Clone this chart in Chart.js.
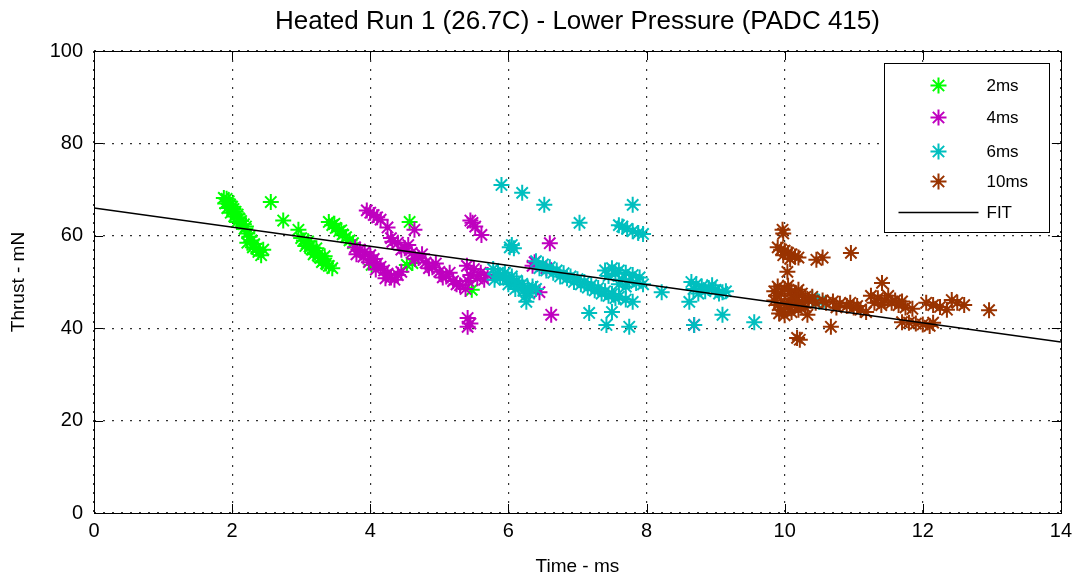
<!DOCTYPE html>
<html>
<head>
<meta charset="utf-8">
<script src="https://cdn.jsdelivr.net/npm/chart.js@4.4.1/dist/chart.umd.min.js"></script>
<style>
  html, body { margin: 0; padding: 0; background: #ffffff; }
  #wrap { width: 1078px; height: 580px; position: relative; }
</style>
</head>
<body>
<div id="wrap"><canvas id="c" width="1078" height="580"></canvas></div>
<script>
// ---------- DATA ----------
const titleText = 'Heated Run 1 (26.7C) - Lower Pressure (PADC 415)';
const xTitle = 'Time - ms';
const yTitle = 'Thrust - mN';
const seriesNames = ['2ms', '4ms', '6ms', '10ms'];
const fitName = 'FIT';
const xTicks = [0, 2, 4, 6, 8, 10, 12, 14];
const yTicks = [0, 20, 40, 60, 80, 100];

// [time ms, thrust mN]
const run2ms = [
  [1.88,68.2],[1.92,68.0],[1.95,67.5],[1.90,67.0],[1.97,66.8],[2.00,66.3],[1.93,66.0],[2.02,65.8],
  [2.05,65.2],[1.98,65.0],[2.08,64.6],[2.03,64.2],[2.10,63.8],[2.13,63.2],[2.07,63.0],[2.17,62.5],
  [2.20,62.0],[2.18,61.5],[2.22,60.5],[2.25,59.8],[2.28,59.0],[2.22,58.5],[2.32,58.2],[2.35,57.2],
  [2.38,56.5],[2.42,55.8],[2.30,57.5],[2.45,57.0],
  [2.56,67.3],[2.74,63.3],[2.96,61.3],
  [3.00,59.5],[3.04,59.0],[3.08,58.3],[3.12,57.7],[3.16,57.0],[3.20,56.4],[3.24,55.8],[3.28,55.2],
  [3.32,54.6],[3.36,54.0],[3.40,53.5],[3.45,53.0],[3.06,57.8],[3.18,56.0],[3.30,54.3],[3.10,58.8],
  [3.22,57.3],[3.34,55.6],
  [3.40,63.0],[3.45,62.3],[3.50,61.7],[3.55,61.0],[3.60,60.3],[3.65,59.7],[3.70,59.0],[3.75,58.4],
  [3.48,62.6],[3.58,61.2],
  [4.02,53.7],[4.53,53.7],[4.57,63.0],[4.61,54.1],[5.47,48.3]
];
const run4ms = [
  [3.95,65.5],[4.00,65.0],[4.05,64.5],[4.10,64.0],[4.15,63.5],
  [4.25,61.8],[4.64,61.3],[4.32,58.7],
  [3.78,57.5],[3.85,57.0],[3.92,56.5],[3.80,56.0],[3.90,55.5],[4.00,55.8],[4.05,55.0],[3.98,54.3],
  [4.10,54.0],[4.15,53.3],[4.08,52.7],[4.20,52.5],[4.25,51.8],[4.30,51.0],[4.35,50.5],[4.22,50.8],
  [4.40,51.5],[4.45,52.2],
  [4.30,59.5],[4.40,58.5],[4.50,57.3],[4.60,56.3],[4.70,55.2],[4.80,54.2],[4.90,53.2],[5.00,52.2],
  [5.10,51.2],[5.20,50.2],[5.30,49.3],[5.38,48.5],[4.45,57.0],[4.65,55.0],[4.85,53.0],[5.05,51.0],
  [5.25,49.5],[4.55,58.0],[4.75,56.0],[4.95,54.0],[5.15,52.0],
  [5.48,62.8],[5.52,62.0],[5.45,63.3],[5.61,60.2],
  [5.40,53.5],[5.50,52.8],[5.60,52.0],[5.45,51.5],[5.55,50.8],[5.65,50.5],[5.70,51.5],[5.42,50.2],
  [5.41,42.2],[5.41,40.3],[5.45,41.0],
  [6.60,58.4],[6.38,54.3],[6.45,47.8],[6.62,42.9],[8.69,40.7],[6.35,53.5],[6.55,53.0]
];
const run6ms = [
  [5.90,71.0],[6.20,69.3],[6.52,66.7],[7.03,62.8],[7.80,66.7],[7.65,62.0],[7.72,61.5],[7.80,61.0],
  [7.88,60.6],[7.95,60.4],[7.60,62.3],
  [6.05,58.0],[6.08,57.3],[6.02,57.5],
  [5.78,52.8],[5.85,52.0],[5.92,51.3],[6.00,50.5],[6.08,49.7],[6.15,49.0],[6.22,48.2],[6.30,47.5],
  [5.95,52.0],[6.05,51.2],[6.12,50.3],[6.20,49.6],[6.28,48.8],[5.88,51.0],[6.00,49.5],[6.10,48.5],
  [6.35,49.0],[6.25,47.0],[5.80,50.5],[6.40,48.5],
  [6.40,54.5],[6.50,53.8],[6.60,53.2],[6.70,52.5],[6.80,51.9],[6.90,51.2],[7.00,50.6],[7.10,50.0],
  [7.20,49.3],[7.30,48.7],[7.40,48.0],[7.50,47.4],[7.60,46.8],[7.70,46.2],[7.80,45.7],[6.55,52.5],
  [6.75,51.2],[6.95,50.0],[7.15,48.8],[7.35,47.5],[7.55,46.5],[6.45,53.0],[6.65,52.0],[6.85,50.8],
  [7.05,49.5],[7.25,48.2],[7.45,47.0],
  [7.40,52.5],[7.50,53.0],[7.60,52.5],[7.70,52.0],[7.80,51.5],[7.90,51.0],[7.45,51.3],[7.55,51.8],
  [7.65,50.5],[7.75,50.2],[7.85,49.8],[7.95,49.5],[7.70,49.0],[7.60,49.5],
  [6.26,45.7],[7.17,43.3],[7.50,43.5],[7.42,40.7],[7.75,40.3],[8.22,47.8],[8.62,45.7],[9.10,42.9],
  [9.56,41.3],[8.69,40.7],
  [8.65,50.0],[8.72,49.5],[8.80,49.0],[8.90,48.7],[9.00,48.3],[9.10,47.8],[8.68,48.5],[8.85,48.0],
  [8.95,49.3],[9.05,47.5],[9.15,48.0],[8.75,47.5],
  [10.50,45.7],[10.40,46.5]
];
const run10ms = [
  [9.97,61.3],[9.98,60.5],
  [9.90,57.5],[9.95,57.0],[10.00,56.8],[10.05,56.3],[10.10,56.0],[10.15,55.5],[9.98,55.8],[10.08,55.0],
  [10.20,55.3],
  [10.46,54.8],[10.55,55.3],[10.96,56.3],[10.04,52.2],
  [9.85,48.0],[9.90,49.0],[9.95,47.5],[10.00,48.5],[10.05,49.2],[10.10,48.0],[10.15,47.2],[10.20,48.3],
  [10.25,47.5],[10.30,46.8],[10.35,46.0],[10.40,46.8],[10.45,45.5],[9.85,46.0],[9.90,45.0],[9.95,44.0],
  [10.00,45.5],[10.05,44.5],[10.10,43.5],[10.15,45.0],[10.20,44.0],[10.00,42.8],[9.92,43.2],[10.25,45.5],
  [10.30,44.5],[10.08,46.3],[9.88,47.0],[10.18,46.0],
  [10.33,42.9],[10.67,40.3],[10.18,37.9],[10.22,37.5],
  [10.70,45.8],[10.80,45.3],[10.90,44.8],[11.00,44.5],[11.10,44.0],[11.18,43.5],[10.75,44.5],[10.95,45.5],
  [11.05,44.8],[10.60,45.5],[10.55,46.0],
  [11.41,49.8],
  [11.25,47.0],[11.35,46.5],[11.45,46.0],[11.55,45.5],[11.65,45.0],[11.75,44.5],[11.85,44.2],[11.30,45.5],
  [11.50,47.0],[11.60,46.0],[11.70,45.8],[11.40,45.0],
  [11.80,41.2],[11.90,41.0],[12.00,40.8],[12.10,40.5],[12.15,41.2],[11.70,41.3],
  [12.05,45.5],[12.15,45.0],[12.25,44.6],[12.42,46.1],[12.60,45.0],[12.96,43.9],[12.35,44.0],[12.50,45.5]
];
const fitLine = [[0, 66.0], [14, 37.0]];

const seriesColors = ['#00FF00', '#BF00BF', '#00BFBF', '#993300'];
const fitColor = '#000000';

// ---------- CHART ----------
const toPts = arr => arr.map(p => ({x: p[0], y: p[1]}));
const allRuns = [run2ms, run4ms, run6ms, run10ms];
const MARK_R = 8, MARK_W = 2;

const datasets = allRuns.map((run, i) => ({
  label: seriesNames[i],
  data: toPts(run),
  pointStyle: 'star',
  pointRadius: MARK_R,
  pointHoverRadius: MARK_R,
  borderWidth: MARK_W,
  pointBorderWidth: MARK_W,
  borderColor: seriesColors[i],
  backgroundColor: seriesColors[i],
  showLine: false,
  order: 4 - i
}));
datasets.push({
  label: fitName,
  data: toPts(fitLine),
  showLine: true,
  pointRadius: 0,
  borderColor: fitColor,
  borderWidth: 1.5,
  fill: false,
  order: 0
});

const FONT = "'Liberation Sans', Arial, sans-serif";

const frame = {
  id: 'frame',
  afterDatasetsDraw(chart) {
    const {ctx, chartArea: a, scales} = chart;
    ctx.save();
    ctx.strokeStyle = '#000';
    ctx.lineWidth = 1;
    // inward ticks
    const L = 9;
    ctx.beginPath();
    scales.x.ticks.forEach(t => {
      const px = Math.round(scales.x.getPixelForValue(t.value)) + 0.5;
      ctx.moveTo(px, a.bottom); ctx.lineTo(px, a.bottom - L);
      ctx.moveTo(px, a.top); ctx.lineTo(px, a.top + L);
    });
    scales.y.ticks.forEach(t => {
      const py = Math.round(scales.y.getPixelForValue(t.value)) + 0.5;
      ctx.moveTo(a.left, py); ctx.lineTo(a.left + L, py);
      ctx.moveTo(a.right, py); ctx.lineTo(a.right - L, py);
    });
    ctx.stroke();
    ctx.strokeRect(Math.round(a.left) + 0.5, Math.round(a.top) + 0.5,
                   Math.round(a.right - a.left), Math.round(a.bottom - a.top));

    // title centred over the plot area
    ctx.fillStyle = '#000';
    ctx.font = '26px ' + FONT;
    ctx.textAlign = 'center';
    ctx.textBaseline = 'middle';
    ctx.fillText(titleText, (a.left + a.right) / 2, 22);

    // legend box
    const bw = 165, bh = 169;
    const bx = Math.round(a.right - 12 - bw) + 0.5;
    const by = Math.round(a.top + 12) + 0.5;
    ctx.fillStyle = '#fff';
    ctx.fillRect(bx, by, bw, bh);
    ctx.strokeRect(bx, by, bw, bh);
    const rowY = [22, 54, 88, 118, 149];
    ctx.font = '17px ' + FONT;
    ctx.textBaseline = 'middle';
    ctx.textAlign = 'left';
    chart.data.datasets.forEach((ds, i) => {
      const y = by + rowY[i];
      if (ds.showLine && ds.pointRadius === 0) {
        ctx.strokeStyle = ds.borderColor;
        ctx.lineWidth = 1.5;
        ctx.beginPath();
        ctx.moveTo(bx + 14, y); ctx.lineTo(bx + 94, y);
        ctx.stroke();
      } else {
        ctx.strokeStyle = ds.borderColor;
        ctx.fillStyle = ds.borderColor;
        ctx.lineWidth = MARK_W;
        Chart.helpers.drawPoint(ctx, {pointStyle: 'star', radius: MARK_R, borderWidth: MARK_W}, bx + 54, y);
      }
      ctx.fillStyle = '#000';
      ctx.fillText(ds.label, bx + 102, y + 1);
    });
    ctx.restore();
  }
};

new Chart(document.getElementById('c'), {
  type: 'scatter',
  data: { datasets },
  plugins: [frame],
  options: {
    responsive: false,
    animation: false,
    layout: { padding: { left: 0, right: 16, top: 51, bottom: 0 } },
    plugins: {
      legend: { display: false },
      tooltip: { enabled: false },
      title: { display: false }
    },
    scales: {
      x: {
        type: 'linear',
        min: xTicks[0], max: xTicks[xTicks.length - 1],
        afterBuildTicks: s => { s.ticks = xTicks.map(v => ({value: v})); },
        afterFit: s => { s.height = 67; },
        ticks: { color: '#000', font: { family: FONT, size: 20 }, padding: 6, maxRotation: 0, autoSkip: false },
        grid: { color: '#333', lineWidth: 1.2, drawTicks: false },
        border: { display: false, dash: [2, 7] },
        title: { display: true, text: xTitle, color: '#000', font: { family: FONT, size: 19 }, padding: { top: 0, bottom: 2 } }
      },
      y: {
        type: 'linear',
        min: yTicks[0], max: yTicks[yTicks.length - 1],
        afterBuildTicks: s => { s.ticks = yTicks.map(v => ({value: v})); },
        afterFit: s => { s.width = 94; },
        ticks: { color: '#000', font: { family: FONT, size: 20 }, padding: 11 },
        grid: { color: '#333', lineWidth: 1.2, drawTicks: false },
        border: { display: false, dash: [2, 7] },
        title: { display: true, text: yTitle, color: '#000', font: { family: FONT, size: 19 }, padding: { top: 7, bottom: 0 } }
      }
    }
  }
});
</script>
</body>
</html>
